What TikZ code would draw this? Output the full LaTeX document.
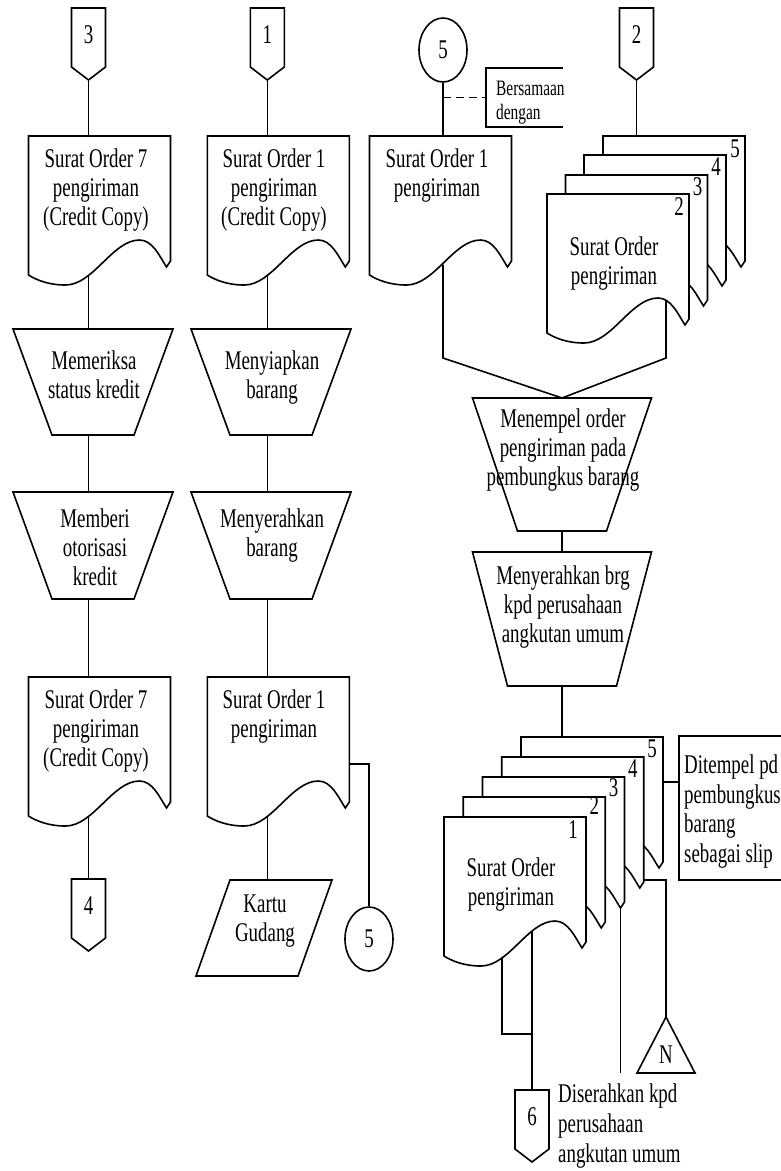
\documentclass[tikz,border=0pt]{standalone}
\usepackage{fontspec}
\setmainfont{Liberation Serif}[FakeStretch=0.70]
\usetikzlibrary{calc,shapes.geometric}

% document symbol: frame node plus wavy outline, exit points on the wave
\newcommand\docshape[3]{% name, left x, top y
  \node[frame, anchor=north west, minimum width=142pt, minimum height=149pt] (#1) at (#2,#3) {};
  \draw[outline] (#1.north west) -- (#1.north east) -- ++(0,125) -- ++(-4,6)
    .. controls +(-7,-11) and +(13,0) .. ($(#1.north west)+(111,104)$)
    .. controls +(-27,0) and +(28,0) .. ($(#1.north west)+(37,149)$)
    .. controls +(-17,0) and +(8,5) .. ($(#1.north west)+(0,139)$) -- cycle;
  \coordinate (#1-out) at ($(#1.north west)+(60,140)$);
  \coordinate (#1-hook) at ($(#1.north west)+(138,131)$);
}
% manual operation (trapezoid, wide side up)
\newcommand\trap[6]{% name, centre x, top y, top width, bottom width, height
  \node[frame, minimum width=#4pt, minimum height=#6pt] (#1) at (#2,#3+#6/2) {};
  \draw[outline] (#1.north west) -- (#1.north east) -- ($(#1.south)+(#5/2,0)$)
    -- ($(#1.south)+(-#5/2,0)$) -- cycle;
}
% off-page connector
\newcommand\offpage[4]{% name, centre x, top y, label
  \node[frame, minimum width=34pt, minimum height=72pt] (#1) at (#2,#3+36) {};
  \draw[outline] (#1.north west) -- (#1.north east) -- ($(#1.north east)+(0,59)$)
    -- (#1.south) -- ($(#1.north west)+(0,59)$) -- cycle;
  \node[txt] (#1-l) at ($(#1.north)+(0,35)$) {#4};
}

\begin{document}
\begin{tikzpicture}[x=1pt,y=-1pt,
  line/.style={line width=1.6pt},
  outline/.style={line width=1.6pt, fill=white, line join=miter},
  frame/.style={draw=none, inner sep=0pt, outer sep=0pt, rectangle},
  % multi-line texts are placed by the baseline of their last line
  txt/.style={font=\fontsize{27}{29}\selectfont, align=center, inner sep=0pt, anchor=base},
  ltxt/.style={font=\fontsize{27}{29.5}\selectfont, align=left, inner sep=0pt, anchor=base west},
  circ/.style={draw, ellipse, line width=1.6pt, minimum width=48pt, minimum height=64pt,
    inner sep=0pt, font=\fontsize{27}{29}\selectfont},
]
\useasboundingbox (0,0) rectangle (781,1171);

% ---------- column 1: credit ----------
\offpage{o3}{88.5}{8}{3}
\docshape{d1}{28.5}{136}
\node[txt] (d1t) at (96,225) {Surat Order 7\\pengiriman\\(Credit Copy)};
\trap{t1}{93}{329}{160}{82}{106}
\node[txt] (t1t) at (94,398) {Memeriksa\\status kredit};
\trap{t2}{93}{492}{160}{82}{107}
\node[txt] (t2t) at (95,585) {Memberi\\otorisasi\\kredit};
\docshape{d3}{28.5}{677}
\node[txt] (d3t) at (96,766) {Surat Order 7\\pengiriman\\(Credit Copy)};
\offpage{o4}{88.5}{879}{4}

\draw[line] (o3.south) -- (o3.south |- d1.north);
\draw[line] (d1-out) -- (d1-out |- t1.north);
\draw[line] (t1.south -| d1-out) -- (t2.north -| d1-out);
\draw[line] (t2.south -| d1-out) -- (d3.north -| d1-out);
\draw[line] (d3-out) -- (d3-out |- o4.north);

% ---------- column 2: warehouse ----------
\offpage{o1}{267.3}{8}{1}
\docshape{d2}{207.3}{136}
\node[txt] (d2t) at (274,225) {Surat Order 1\\pengiriman\\(Credit Copy)};
\trap{t3}{271}{329}{160}{82}{106}
\node[txt] (t3t) at (272,398) {Menyiapkan\\barang};
\trap{t4}{271}{492}{160}{82}{107}
\node[txt] (t4t) at (272,556) {Menyerahkan\\barang};
\docshape{d4}{207.3}{677}
\node[txt] (d4t) at (274,737) {Surat Order 1\\pengiriman};
\node[frame, minimum width=136pt, minimum height=96pt] (kg) at (264,928) {};
\draw[outline] ($(kg.north west)+(34,0)$) -- (kg.north east) -- ($(kg.south east)+(-34,0)$)
  -- (kg.south west) -- cycle;
\node[txt] (kgt) at (265,941) {Kartu\\Gudang};
\node[circ] (c5b) at (369,939) {5};

\draw[line] (o1.south) -- (o1.south |- d2.north);
\draw[line] (d2-out) -- (d2-out |- t3.north);
\draw[line] (t3.south -| d2-out) -- (t4.north -| d2-out);
\draw[line] (t4.south -| d2-out) -- (d4.north -| d2-out);
\draw[line] (d4-out) -- (d4-out |- kg.north);
\draw[line] ($(d4.north east)+(0,87)$) -| (c5b.north);

% ---------- column 3: shipping ----------
\node[circ] (c5a) at (443,50) {5};
\docshape{d5}{369.5}{136}
\coordinate (d5x) at ($(d5.north west)+(73.5,128.5)$);
\node[txt] (d5t) at (437,196) {Surat Order 1\\pengiriman};
\node[frame, anchor=north west, minimum width=77pt, minimum height=59pt] (ann1) at (486,68) {};
\draw[line] (ann1.north east) -- (ann1.north west) -- (ann1.south west) -- (ann1.south east);
\node[ltxt, font=\fontsize{22}{24}\selectfont] (ann1t) at (496,119) {Bersamaan\\dengan};
\draw[line] (c5a.south) -- (c5a.south |- d5.north);
\draw[line, dash pattern=on 8pt off 5pt] (c5a.south |- ann1.west) -- (ann1.west);

\offpage{o2}{636.5}{8}{2}
\docshape{s5}{603}{136}
\docshape{s4}{584}{155}
\docshape{s3}{565.5}{175}
\docshape{s2}{547}{194}
\coordinate (s2x) at ($(s2.north west)+(119,106)$);
\node[txt, anchor=base east] (s5n) at ($(s5.north east)+(-5,21)$) {5};
\node[txt, anchor=base east] (s4n) at ($(s4.north east)+(-5,20)$) {4};
\node[txt, anchor=base east] (s3n) at ($(s3.north east)+(-5,20)$) {3};
\node[txt, anchor=base east] (s2n) at ($(s2.north east)+(-5,21)$) {2};
\node[txt] (s2t) at (614,284) {Surat Order\\pengiriman};
\draw[line] (o2.south) -- (o2.south |- s5.north);

\trap{t5}{562}{398}{179}{89}{133}
\node[txt] (t5t) at (563,485) {Menempel order\\pengiriman pada\\pembungkus barang};
\trap{t6}{562}{552}{179}{109}{134}
\node[txt] (t6t) at (563,642) {Menyerahkan brg\\kpd perusahaan\\angkutan umum};

\draw[line] (d5x) -- ($(d5x |- t5.north)+(0,-40)$) -- (t5.north);
\draw[line] (s2x) -- ($(s2x |- t5.north)+(0,-40)$) -- (t5.north);
\draw[line] (t5.south) -- (t6.north);

% stack of five copies
\docshape{b5}{521}{737}
\docshape{b4}{501.75}{757}
\docshape{b3}{482.5}{777}
\docshape{b2}{463.25}{797}
\docshape{b1}{444}{817}
\node[txt, anchor=base east] (b5n) at ($(b5.north east)+(-6,20)$) {5};
\node[txt, anchor=base east] (b4n) at ($(b4.north east)+(-6,20)$) {4};
\node[txt, anchor=base east] (b3n) at ($(b3.north east)+(-6,19)$) {3};
\node[txt, anchor=base east] (b2n) at ($(b2.north east)+(-6,17)$) {2};
\node[txt, anchor=base east] (b1n) at ($(b1.north east)+(-8,21)$) {1};
\node[txt] (b1t) at (511,905) {Surat Order\\pengiriman};
\draw[line] (t6.south) -- (t6.south |- b5.north);

% note on copy 5
\node[frame, anchor=north west, minimum width=102pt, minimum height=144pt] (ann2) at (679,736) {};
\draw[line] (ann2.north east) -- (ann2.north west) -- (ann2.south west) -- (ann2.south east);
\node[ltxt] (ann2t) at (684,862) {Ditempel pd\\pembungkus\\barang\\sebagai slip};
\draw[line] ($(b5.north east)+(0,45)$) coordinate (p5) -- (p5 -| ann2.west);

% file N
\node[frame, anchor=north west, minimum width=58pt, minimum height=56pt] (nn) at (637,1017) {};
\draw[outline] (nn.north) -- (nn.south east) -- (nn.south west) -- cycle;
\node[txt] (nnt) at (666,1063) {N};
\draw[line] ($(b4.north east)+(0,123)$) coordinate (p4) -- (p4 -| nn.north) -- (nn.north);

% copy 3 line
\coordinate (e3) at (b3-hook |- nn.south);
\draw[line] (b3-hook) -- (e3);

% copies 1 and 2 to connector 6
\coordinate (b1x) at ($(b1.north west)+(88,114)$);
\coordinate (b1y) at ($(b1.north west)+(58,140.5)$);
\offpage{o6}{532}{1090}{6}
\draw[line] (b1x) -- (b1x |- o6.north);
\draw[line] (b1y) |- ($(b1x)+(0,103)$);
\node[ltxt, font=\fontsize{27}{30}\selectfont] (o6t) at (558,1162) {Diserahkan kpd\\perusahaan\\angkutan umum};
\end{tikzpicture}
\end{document}
